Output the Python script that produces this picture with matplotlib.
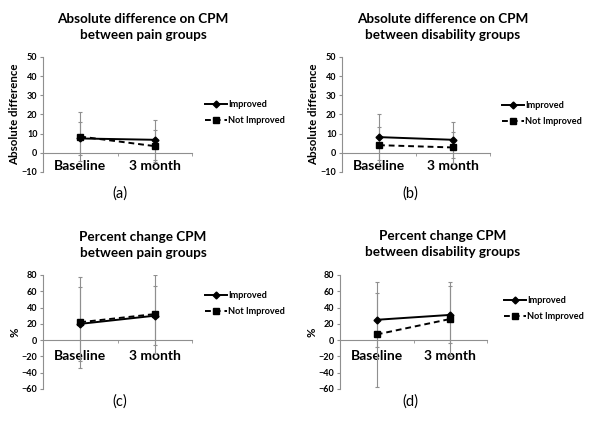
import matplotlib.pyplot as plt
import numpy as np

plt.rcParams["font.family"] = ["Lato", "DejaVu Sans"]
plt.rcParams["font.weight"] = "bold"

categories = ["Baseline", "3 month"]
series_names = ["Improved", "Not Improved"]

# absolute difference, pain groups
pain_abs_imp = [7.5, 6.8]
pain_abs_imp_err = [8.5, 10.5]
pain_abs_ni = [8.5, 3.5]
pain_abs_ni_err = [12.8, 8.5]

# absolute difference, disability groups
dis_abs_imp = [8.2, 6.8]
dis_abs_imp_err = [12.0, 9.3]
dis_abs_ni = [4.0, 2.8]
dis_abs_ni_err = [9.5, 8.2]

# percent change, pain groups
pain_pct_imp = [20, 30]
pain_pct_imp_err = [45, 36]
pain_pct_ni = [22, 32]
pain_pct_ni_err = [56, 48]

# percent change, disability groups
dis_pct_imp = [25, 31]
dis_pct_imp_err = [33, 35]
dis_pct_ni = [7, 26]
dis_pct_ni_err = [64, 46]

W, H = 600, 421
fig = plt.figure(figsize=(6.0, 4.21), dpi=100)
GRAY = "#8f8f8f"


def px_axes(x0, x1, ytop, ybot):
    return fig.add_axes([x0 / W, 1 - ybot / H, (x1 - x0) / W, (ybot - ytop) / H])


def panel(ax, imp, imp_err, ni, ni_err, ylim, yticks, ylabel, xpad):
    x = np.arange(len(categories))
    ax.errorbar(x, imp, yerr=imp_err, fmt="none", ecolor=GRAY, elinewidth=0.8,
                capsize=1.5, capthick=0.8, zorder=2)
    ax.errorbar(x, ni, yerr=ni_err, fmt="none", ecolor=GRAY, elinewidth=0.8,
                capsize=1.5, capthick=0.8, zorder=2)
    h1, = ax.plot(x, imp, color="black", lw=1.4, marker="D", ms=3.5,
                  label=series_names[0], zorder=4)
    h2, = ax.plot(x, ni, color="black", lw=1.4, ls=(0, (3, 2)), marker="s", ms=4.5,
                  label=series_names[1], zorder=3)
    ax.set_xlim(-0.5, len(categories) - 0.5)
    ax.set_ylim(*ylim)
    ax.set_yticks(yticks)
    ax.set_xticks(x)
    ax.set_xticklabels(categories, fontsize=7, fontweight="bold")
    ax.set_xticks(np.arange(len(categories) + 1) - 0.5, minor=True)
    for s in ("top", "right"):
        ax.spines[s].set_visible(False)
    ax.spines["bottom"].set_position(("data", 0))
    ax.spines["bottom"].set_color(GRAY)
    ax.spines["left"].set_color(GRAY)
    ax.spines["bottom"].set_linewidth(0.8)
    ax.spines["left"].set_linewidth(0.8)
    ax.tick_params(axis="x", which="major", length=0, pad=xpad)
    ax.tick_params(axis="x", which="minor", length=2, color=GRAY)
    ax.tick_params(axis="y", length=2, color=GRAY, labelsize=6.5, pad=2)
    ax.set_ylabel(ylabel, fontsize=8.3, fontweight="bold", labelpad=1)
    ax.patch.set_alpha(0)
    return h1, h2


def legend(handles, x, y):
    fig.legend(handles=handles, loc="upper left", bbox_to_anchor=(x / W, 1 - y / H),
               frameon=False, handlelength=2.4, handletextpad=0.1,
               labelspacing=0.8, borderpad=0, borderaxespad=0,
               prop={"weight": "bold", "size": 6.6})


def title(text, x, y):
    fig.text(x / W, 1 - y / H, text, ha="center", va="center", fontsize=9.7,
             fontweight="bold", linespacing=1.35)


def sublabel(text, x, y):
    fig.text(x / W, 1 - y / H, text, ha="center", va="center", fontsize=10.5,
             fontweight="normal")


ax_a = px_axes(43, 192, 57, 172)
hs = panel(ax_a, pain_abs_imp, pain_abs_imp_err, pain_abs_ni, pain_abs_ni_err,
           (-10, 50), [-10, 0, 10, 20, 30, 40, 50], "Absolute difference", 5.5)
legend(hs, 205, 100)
title("Absolute difference on CPM\nbetween pain groups", 143, 27)
sublabel("(a)", 120, 194)

ax_b = px_axes(342, 490, 57, 172)
hs = panel(ax_b, dis_abs_imp, dis_abs_imp_err, dis_abs_ni, dis_abs_ni_err,
           (-10, 50), [-10, 0, 10, 20, 30, 40, 50], "Absolute difference", 5.5)
legend(hs, 502, 101)
title("Absolute difference on CPM\nbetween disability groups", 443, 27)
sublabel("(b)", 410, 194)

ax_c = px_axes(43, 192, 275, 389)
hs = panel(ax_c, pain_pct_imp, pain_pct_imp_err, pain_pct_ni, pain_pct_ni_err,
           (-60, 80), [-60, -40, -20, 0, 20, 40, 60, 80], "%", 7)
legend(hs, 205, 291)
title("Percent change CPM\nbetween pain groups", 143, 245)
sublabel("(c)", 120, 402)

ax_d = px_axes(340, 487, 275, 389)
hs = panel(ax_d, dis_pct_imp, dis_pct_imp_err, dis_pct_ni, dis_pct_ni_err,
           (-60, 80), [-60, -40, -20, 0, 20, 40, 60, 80], "%", 7)
legend(hs, 504, 296)
title("Percent change CPM\nbetween disability groups", 443, 244)
sublabel("(d)", 410, 402)

fig.savefig("out.png", dpi=100)
